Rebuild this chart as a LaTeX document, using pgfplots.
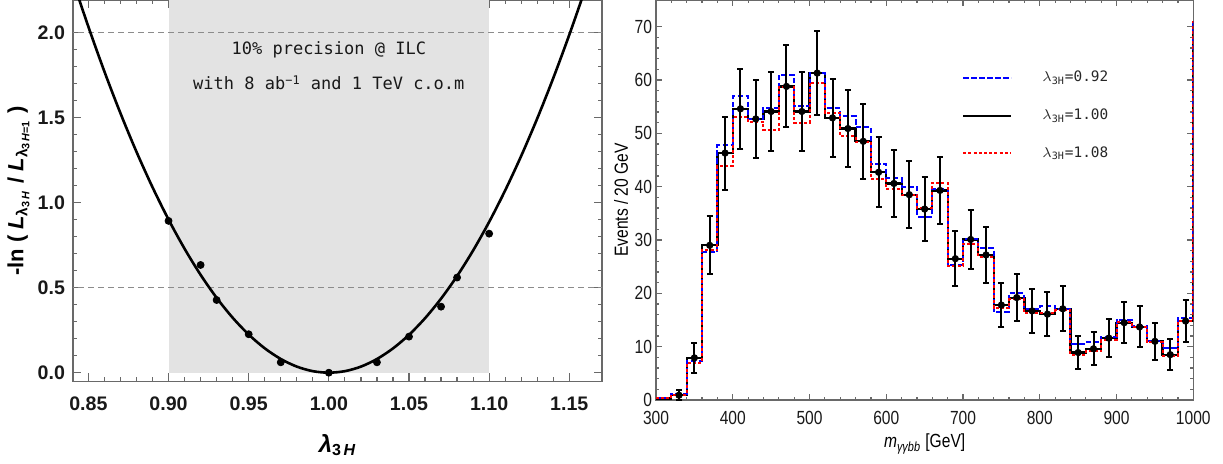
\documentclass[border=0pt]{standalone}
\usepackage{pgfplots}
\pgfplotsset{compat=1.18}
\usepackage{pgfplotstable}
\usepackage{fontspec}
\setmainfont{Liberation Sans}
\newfontfamily\narrow[FakeStretch=0.82]{Liberation Sans}
\newfontfamily\mono{DejaVu Sans Mono}
\definecolor{framegray}{RGB}{105,105,105}
\definecolor{shade}{RGB}{227,227,227}
\definecolor{dashgray}{RGB}{140,140,140}

\pgfplotstableread{
x blk blu red
300 0.3 0.3 0.3
320 0.9 1.2 1.0
340 7.9 7.3 7.0
360 29.0 27.7 28.1
380 46.3 47.8 43.9
400 54.6 57.0 53.0
420 52.7 52.6 52.2
440 54.1 54.8 50.6
460 58.8 61.0 58.6
480 54.1 55.2 52.0
500 61.3 61.3 59.5
520 52.9 54.7 53.8
540 50.9 53.2 49.5
560 48.5 51.2 48.3
580 42.7 44.3 41.5
600 40.6 41.6 39.5
620 38.5 40.0 38.4
640 35.8 34.4 36.0
660 39.3 39.6 40.7
680 26.5 25.3 25.2
700 30.1 30.1 29.3
720 27.2 28.5 26.8
740 17.8 16.5 17.2
760 19.2 20.0 18.9
780 16.7 17.0 16.3
800 16.1 17.7 16.4
820 17.1 17.0 16.8
840 8.9 10.5 8.5
860 9.6 10.8 9.1
880 11.6 11.8 11.3
900 14.5 15.0 14.6
920 13.7 13.9 13.7
940 11.0 11.1 10.9
960 8.5 9.7 8.3
980 14.8 15.3 14.8
1000 14.8 15.3 14.8
1000 71 71 71
}\hist

\pgfplotstableread{
x y e
330 0.9 0.95
350 7.9 2.8
370 29.0 5.45
390 46.3 6.85
410 54.6 7.45
430 52.7 7.3
450 54.1 7.35
470 58.8 7.7
490 54.1 7.35
510 61.3 7.9
530 52.9 7.35
550 50.9 7.15
570 48.5 7.05
590 42.7 6.6
610 40.6 6.3
630 38.5 6.25
650 35.8 6.05
670 39.3 6.35
690 26.5 5.2
710 30.1 5.55
730 27.2 5.25
750 17.8 4.2
770 19.2 4.35
790 16.7 4.15
810 16.1 4.1
830 17.1 4.2
850 8.9 3.05
870 9.6 3.1
890 11.6 3.5
910 14.5 3.9
930 13.7 3.85
950 11.0 3.45
970 8.5 2.95
990 14.8 3.9
}\pts

\pgfplotstableread{
x y
0.83 2.6152
0.84 2.3148
0.85 2.0329
0.86 1.7695
0.87 1.5246
0.88 1.2980
0.89 1.0898
0.90 0.9000
0.91 0.7284
0.92 0.5751
0.93 0.4400
0.94 0.3230
0.95 0.2242
0.96 0.1433
0.97 0.0806
0.98 0.0358
0.99 0.0089
1.00 0.0000
1.01 0.0089
1.02 0.0356
1.03 0.0802
1.04 0.1425
1.05 0.2224
1.06 0.3200
1.07 0.4352
1.08 0.5679
1.09 0.7182
1.10 0.8860
1.11 1.0712
1.12 1.2738
1.13 1.4938
1.14 1.7311
1.15 1.9857
1.16 2.2574
1.17 2.5464
}\fitcurve

\pgfplotstableread{
x y
0.90 0.892
0.92 0.633
0.93 0.427
0.95 0.226
0.97 0.061
1.00 0.000
1.03 0.061
1.05 0.212
1.07 0.388
1.08 0.559
1.10 0.817
}\lpts

\begin{document}
\begin{tikzpicture}
\path[use as bounding box] (0,0) rectangle (611.5pt,231.5pt);
% ---------------- left panel
\begin{axis}[
  at={(36.5pt,40.65pt)}, anchor=south west, scale only axis,
  width=264.5pt, height=190.85pt,
  xmin=0.8404, xmax=1.1704, ymin=-0.053, ymax=2.19,
  xtick={0.85,0.9,0.95,1,1.05,1.1,1.15},
  xticklabels={0.85,0.90,0.95,1.00,1.05,1.10,1.15},
  ytick={0,0.5,1,1.5,2},
  yticklabels={0.0,0.5,1.0,1.5,2.0},
  minor x tick num=4, minor y tick num=4,
  tick align=inside,
  axis line style={framegray, line width=0.7pt},
  tick style={framegray, line width=0.6pt},
  major tick length=4.2pt, minor tick length=2.2pt,
  tick label style={font=\bfseries\fontsize{9.8}{11}\selectfont, black!90},
  xticklabel style={yshift=-4pt},
  yticklabel style={xshift=-0.5pt},
  xlabel={{\bfseries\itshape λ}\textsubscript{\bfseries 3\,\itshape H}},
  xlabel style={font=\fontsize{12}{13}\selectfont, at={(axis description cs:0.5,-0.166)}, anchor=center},
  ylabel={\bfseries -ln ( \textit{L}\textsubscript{λ\textsubscript{3\,\textit{H}}} / \textit{L}\textsubscript{λ\textsubscript{3\,\textit{H}=1}} )},
  ylabel style={font=\fontsize{11}{12}\selectfont, at={(axis description cs:-0.103,0.5)}, anchor=center},
]
\addplot[fill=shade, draw=none, forget plot] coordinates {(0.9,0) (0.9,2.5) (1.1,2.5) (1.1,0)} -- cycle;
\addplot[dashgray, line width=0.6pt, dash pattern=on 3pt off 2pt, forget plot] coordinates {(0.8,0.5) (1.2,0.5)};
\addplot[dashgray, line width=0.6pt, dash pattern=on 3pt off 2pt, forget plot] coordinates {(0.8,2) (1.2,2)};
\addplot[black, line width=1.3pt, smooth, forget plot] table[x=x,y=y] {\fitcurve};
\addplot[black, only marks, mark=*, mark size=1.75pt, forget plot] table[x=x,y=y] {\lpts};
\node[font=\mono\fontsize{8.5}{10}\selectfont, text=black!90] at (axis cs:1.0,1.897) {10\% precision @ ILC};
\node[font=\mono\fontsize{8.5}{10}\selectfont, text=black!90] at (axis cs:1.0,1.703) {with 8 ab\textsuperscript{−1} and 1 TeV c.o.m};
\end{axis}
% ---------------- right panel
\begin{axis}[
  at={(328pt,31.5pt)}, anchor=south west, scale only axis,
  width=268.65pt, height=200pt,
  xmin=300, xmax=1000, ymin=0, ymax=75,
  xtick={300,400,500,600,700,800,900,1000},
  xticklabels={300,400,500,600,700,800,900,1000},
  ytick={0,10,20,30,40,50,60,70},
  yticklabels={0,10,20,30,40,50,60,70},
  minor x tick num=4, minor y tick num=4,
  tick align=inside,
  axis line style={framegray, line width=0.7pt},
  tick style={framegray, line width=0.6pt},
  major tick length=3pt, minor tick length=1.7pt,
  tick label style={font=\narrow\fontsize{9.5}{11}\selectfont, black!90},
  xticklabel style={yshift=-2.2pt},
  yticklabel style={xshift=1.5pt},
  xlabel={{\itshape m}\textsubscript{\itshape γγbb} [GeV]},
  xlabel style={font=\narrow\fontsize{9.5}{11}\selectfont, at={(axis description cs:0.5,-0.11)}, anchor=center},
  ylabel={Events / 20 GeV},
  ylabel style={font=\narrow\fontsize{9.5}{11}\selectfont, at={(axis description cs:-0.065,0.5)}, anchor=center},
  legend style={draw=none, fill=none, at={(axis description cs:0.569,0.711)}, anchor=west,
     inner sep=0pt, row sep=12pt, /tikz/every odd column/.append style={column sep=15pt},
     nodes={inner sep=0pt, font=\mono\fontsize{7.2}{9}\selectfont, text=black!85}},
  legend image code/.code={\draw[#1] (0pt,0pt) -- (24pt,0pt);},
  legend cell align=left,
]
\addplot[black, line width=1.1pt, const plot, forget plot] table[x=x,y=blk] {\hist};
\addplot[blue, line width=1pt, dash pattern=on 2.7pt off 1.3pt, const plot, forget plot] table[x=x,y=blu] {\hist};
\addplot[red, line width=1pt, dash pattern=on 1.5pt off 1.1pt, const plot, forget plot] table[x=x,y=red] {\hist};
\addplot[black, only marks, mark=*, mark size=1.6pt, forget plot,
  error bars/.cd, y dir=both, y explicit,
  error bar style={line width=1pt, black},
  error mark options={rotate=90, mark size=1.5pt, line width=1pt, black}]
  table[x=x, y=y, y error=e] {\pts};
\addlegendimage{blue, line width=1pt, dash pattern=on 2.7pt off 1.3pt}
\addlegendentry{$\lambda$\textsubscript{3H}=0.92}
\addlegendimage{black, line width=1.1pt}
\addlegendentry{$\lambda$\textsubscript{3H}=1.00}
\addlegendimage{red, line width=1pt, dash pattern=on 1.5pt off 1.1pt}
\addlegendentry{$\lambda$\textsubscript{3H}=1.08}
\end{axis}
\end{tikzpicture}
\end{document}
